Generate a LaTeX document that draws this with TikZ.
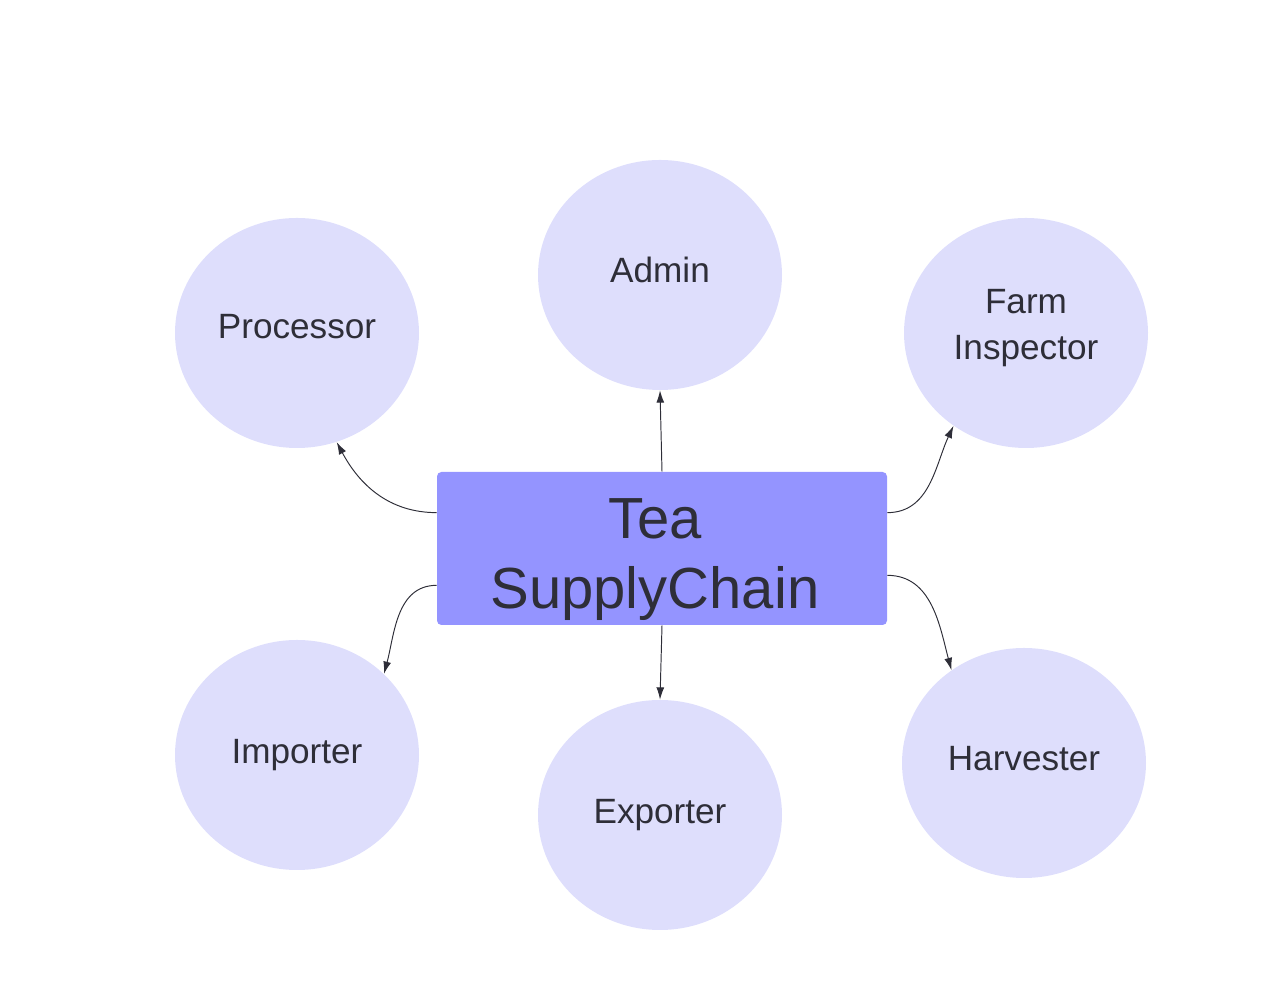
\documentclass[tikz,border=0pt]{standalone}
\usepackage{fontspec}
\setmainfont{Liberation Sans}
\usetikzlibrary{shapes.geometric}
\usetikzlibrary{arrows.meta}
\usetikzlibrary{calc}
\definecolor{rolefill}{HTML}{DEDEFC}
\definecolor{chainfill}{HTML}{9494FF}
\definecolor{inkgrey}{HTML}{2E2E38}
\begin{document}
\begin{tikzpicture}[inner sep=0pt,>={Latex[length=7pt,width=4.5pt]},
  role/.style={ellipse,fill=rolefill,minimum width=4.88cm,minimum height=4.6cm,
    text=inkgrey,align=center,font=\fontsize{20}{26}\selectfont},
  lift/.style={text depth=#1},
  chainbox/.style={rectangle,rounded corners=2.5pt,fill=chainfill,minimum width=9cm,
    minimum height=3.06cm,text=inkgrey,align=center,text height=75pt,
    font=\fontsize{33}{40}\selectfont},
  link/.style={->,draw=inkgrey,line width=0.55pt}]
\useasboundingbox (0,0) rectangle (25.6,19.78);
\draw node [chainbox] (chain) at (13.24,8.81) {\hspace*{-0.28cm}Tea\\\hspace*{-0.28cm}SupplyChain};
\draw node [role,lift=5.7pt] (admin) at (13.2,14.28) {Admin};
\draw node [role,lift=7pt] (proc)  at (5.94,13.12)  {Processor};
\draw node [role,lift=10pt] (insp)  at (20.52,13.12) {Farm\\Inspector};
\draw node [role] (imp)   at (5.94,4.68)   {Importer};
\draw node [role] (exp)   at (13.2,3.48)   {Exporter};
\draw node [role,lift=5.7pt] (harv)  at (20.48,4.52)  {Harvester};
\draw [link] (chain.north) -- (admin.south);
\draw [link] (chain.south) -- (exp.north);
\draw [link] ([yshift=-0.82cm]chain.north west) to[out=180,in=-62] (proc.-70);
\draw [link] ([yshift=-0.82cm]chain.north east) to[out=0,in=-115] (insp.-128);
\draw [link] ([yshift=0.8cm]chain.south west) to[out=180,in=75] (imp.43);
\draw [link] ([yshift=1cm]chain.south east) to[out=0,in=105] (harv.128);
\end{tikzpicture}
\end{document}
